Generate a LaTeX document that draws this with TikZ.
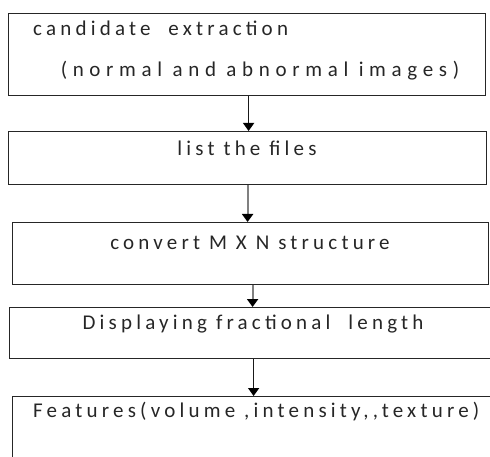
\documentclass[tikz,border=0pt]{standalone}
\usepackage{fontspec}
\setmainfont[LetterSpace=20]{Carlito}
\newfontface\widerface[LetterSpace=27]{Carlito}
\usetikzlibrary{arrows.meta}
\tikzset{
  box/.style={draw=black!85, line width=1.2pt, rectangle, inner sep=0pt, anchor=north west},
  lbl/.style={font=\fontsize{21}{23}\selectfont, inner sep=0pt, text=black!85},
  arr/.style={draw=black!90, line width=1.4pt, -{Triangle[width=11pt,length=8pt,color=black]}},
  garr/.style={arr, draw=black!50, line width=2pt}
}
\begin{document}
\begin{tikzpicture}[x=1pt,y=-1pt]
\useasboundingbox (0,0) rectangle (490,457);
\node[box, minimum width=477pt, minimum height=82pt] (b1) at (8,13) {};
\node[box, minimum width=478pt, minimum height=53pt] (b2) at (8,131) {};
\node[box, minimum width=476pt, minimum height=62pt] (b3) at (12,222) {};
\node[box, minimum width=500pt, minimum height=51pt] (b4) at (9,307) {};
\node[box, minimum width=500pt, minimum height=90pt] (b5) at (12,396) {};
\node[lbl, anchor=west] (t1) at (33,28) {candidate\ \ extraction};
\node[lbl, font=\fontsize{21}{23}\widerface] (t1b) at (260,71) {(normal and abnormal images)};
\node[lbl] (t2) at (247,148) {list the files};
\node[lbl] (t3) at (250,243) {convert M X N structure};
\node[lbl] (t4) at (253,324) {Displaying fractional\ \ length};
\node[lbl, anchor=west] (t5) at (33,412) {Features(volume ,intensity{,}{,}texture)};
\draw[arr] ([xshift=1.5pt]b1.south) -- ([xshift=1.5pt]b1.south |- b2.north);
\draw[garr] ([xshift=0pt]b2.south) -- ([xshift=0pt]b2.south |- b3.north);
\draw[garr] ([xshift=2pt]b3.south) -- ([xshift=2pt]b3.south |- b4.north);
\draw[arr] ([xshift=3pt]b3.south |- b4.south) -- ([xshift=3pt]b3.south |- b5.north);
\end{tikzpicture}
\end{document}
